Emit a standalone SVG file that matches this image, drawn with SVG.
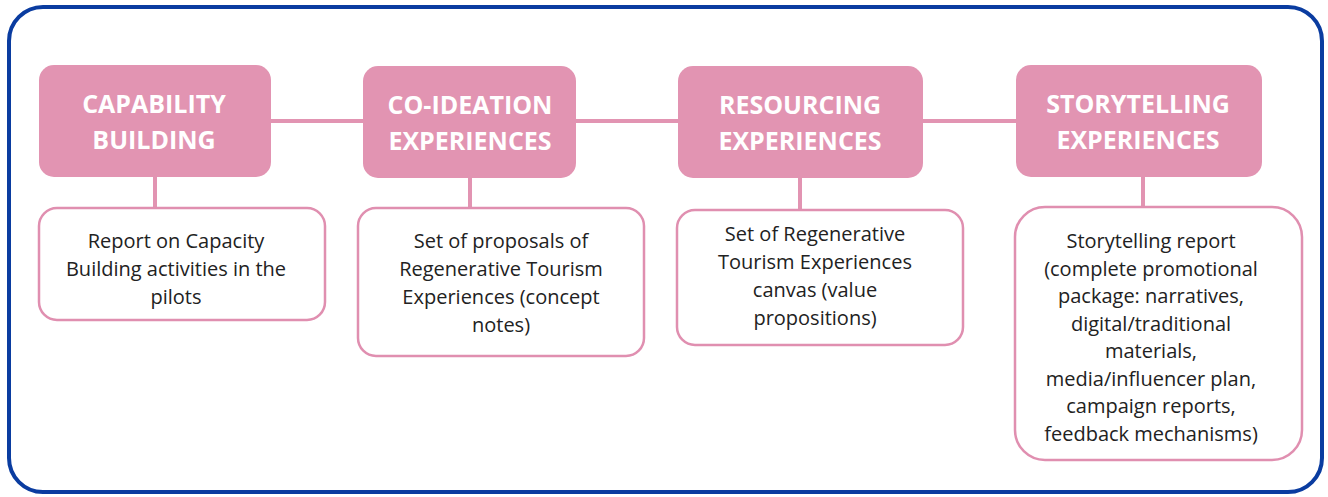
<svg xmlns="http://www.w3.org/2000/svg" width="1328" height="497" viewBox="0 0 1328 497">
<style>
.head{fill:#e294b2;}
.card{fill:#ffffff;stroke:#e08fb0;stroke-width:2.5;}
.conn{stroke:#e294b2;stroke-width:4;fill:none;}
.ht{font-family:"Open Sans","Liberation Sans",sans-serif;font-weight:bold;font-size:25px;fill:#ffffff;text-anchor:middle;}
.bt{font-family:"Open Sans","Liberation Sans",sans-serif;font-size:20px;fill:#222222;text-anchor:middle;}
</style>
<rect x="0" y="0" width="1328" height="497" fill="#ffffff"/>
<rect x="9" y="7" width="1313" height="485" rx="34" fill="#ffffff" stroke="#0a3ca0" stroke-width="4"/>
<g id="connectors">
<line class="conn" x1="271" y1="121" x2="363" y2="121"/>
<line class="conn" x1="576" y1="121" x2="678" y2="121"/>
<line class="conn" x1="923" y1="121" x2="1016" y2="121"/>
<line class="conn" x1="155" y1="177" x2="155" y2="208"/>
<line class="conn" x1="470" y1="178" x2="470" y2="208"/>
<line class="conn" x1="800" y1="178" x2="800" y2="210"/>
<line class="conn" x1="1143" y1="177" x2="1143" y2="207"/>
</g>
<g id="capability">
<rect class="head" x="39" y="65" width="232" height="112" rx="15"/>
<text class="ht" x="154" y="113">CAPABILITY</text>
<text class="ht" x="154" y="149">BUILDING</text>
</g>
<g id="coideation">
<rect class="head" x="363" y="66" width="213" height="112" rx="15"/>
<text class="ht" x="470" y="114">CO-IDEATION</text>
<text class="ht" x="470" y="150">EXPERIENCES</text>
</g>
<g id="resourcing">
<rect class="head" x="678" y="66" width="245" height="112" rx="15"/>
<text class="ht" x="800" y="114">RESOURCING</text>
<text class="ht" x="800" y="150">EXPERIENCES</text>
</g>
<g id="storytelling">
<rect class="head" x="1016" y="65" width="246" height="112" rx="15"/>
<text class="ht" x="1138" y="113">STORYTELLING</text>
<text class="ht" x="1138" y="149">EXPERIENCES</text>
</g>
<g id="card1">
<rect class="card" x="39" y="208" width="286" height="112" rx="18"/>
<text class="bt" x="176" y="248">Report on Capacity</text>
<text class="bt" x="176" y="276">Building activities in the</text>
<text class="bt" x="176" y="304">pilots</text>
</g>
<g id="card2">
<rect class="card" x="358" y="208" width="286" height="148" rx="18"/>
<text class="bt" x="501" y="248">Set of proposals of</text>
<text class="bt" x="501" y="276">Regenerative Tourism</text>
<text class="bt" x="501" y="304">Experiences (concept</text>
<text class="bt" x="501" y="332">notes)</text>
</g>
<g id="card3">
<rect class="card" x="677" y="210" width="286" height="135" rx="18"/>
<text class="bt" x="815" y="241">Set of Regenerative</text>
<text class="bt" x="815" y="269">Tourism Experiences</text>
<text class="bt" x="815" y="297">canvas (value</text>
<text class="bt" x="815" y="325">propositions)</text>
</g>
<g id="card4">
<rect class="card" x="1015" y="207" width="287" height="253" rx="30"/>
<text class="bt" x="1151" y="248">Storytelling report</text>
<text class="bt" x="1151" y="276">(complete promotional</text>
<text class="bt" x="1151" y="303">package: narratives,</text>
<text class="bt" x="1151" y="331">digital/traditional</text>
<text class="bt" x="1151" y="358">materials,</text>
<text class="bt" x="1151" y="386">media/influencer plan,</text>
<text class="bt" x="1151" y="413">campaign reports,</text>
<text class="bt" x="1151" y="441">feedback mechanisms)</text>
</g>
</svg>
